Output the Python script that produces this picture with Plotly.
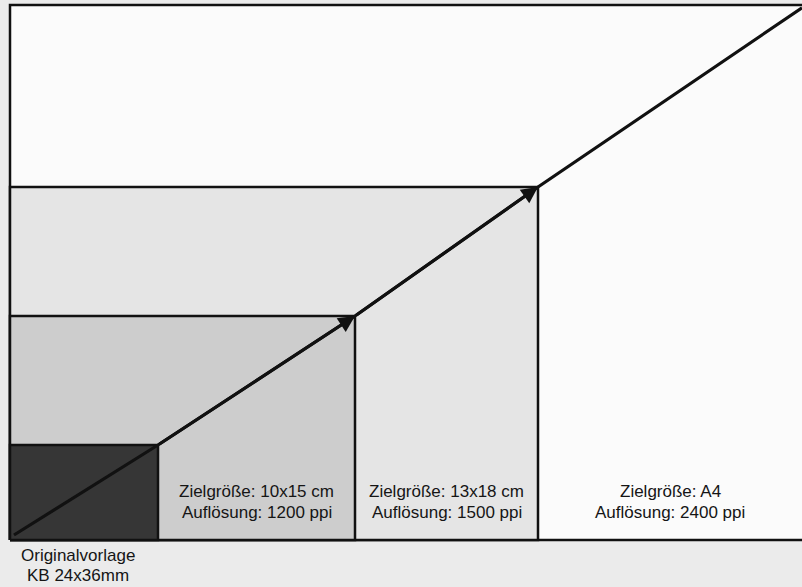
import plotly.graph_objects as go

# Frame sizes (axis units), innermost to outermost
frame_names = ["Originalvorlage", "Zielgröße: 10x15 cm", "Zielgröße: 13x18 cm", "Zielgröße: A4"]
frame_widths = [148, 345, 528, 800]
frame_heights = [95, 224, 353, 535]
line1 = ["Originalvorlage", "Zielgröße: 10x15 cm", "Zielgröße: 13x18 cm", "Zielgröße: A4"]
line2 = ["KB 24x36mm", "Auflösung: 1200 ppi", "Auflösung: 1500 ppi", "Auflösung: 2400 ppi"]
fills = ["#363636", "#cdcdcd", "#e5e5e5", "#fbfbfb"]

fig = go.Figure()

# draw outermost first
for i in reversed(range(len(frame_widths))):
    w, h = frame_widths[i], frame_heights[i]
    fig.add_trace(go.Scatter(
        x=[0, w, w, 0, 0], y=[0, 0, h, h, 0],
        fill="toself", fillcolor=fills[i], mode="lines",
        line=dict(color="#111111", width=2.5), hoverinfo="skip", showlegend=False))

# diagonal growth line through frame corners
ax_pts = [4] + frame_widths[:3] + [792]
slope = (frame_heights[2] - frame_heights[0]) / (frame_widths[2] - frame_widths[0])
end_y = frame_heights[2] + slope * (792 - frame_widths[2])
ay_pts = [5] + frame_heights[:3] + [end_y]
fig.add_trace(go.Scatter(x=ax_pts, y=ay_pts, mode="lines",
                         line=dict(color="#111111", width=3.2),
                         hoverinfo="skip", showlegend=False))

annotations = []
for i in (1, 2):
    annotations.append(dict(
        x=frame_widths[i], y=frame_heights[i], ax=frame_widths[i - 1], ay=frame_heights[i - 1],
        xref="x", yref="y", axref="x", ayref="y", text="", showarrow=True,
        arrowhead=2, arrowsize=1.1, arrowwidth=3, arrowcolor="#111111"))

font = dict(family="Liberation Sans, Arial, sans-serif", size=17, color="#151515")
# labels in frames 1..3
for i in (1, 2, 3):
    right = min(frame_widths[i], 792)
    cx = (frame_widths[i - 1] + right) / 2
    annotations.append(dict(x=cx, y=49, text=line1[i], showarrow=False, font=font,
                            xref="x", yref="y", xanchor="center", yanchor="middle"))
    annotations.append(dict(x=cx, y=28, text=line2[i], showarrow=False, font=font,
                            xref="x", yref="y", xanchor="center", yanchor="middle"))
annotations.append(dict(x=68, y=-15, text=line1[0], showarrow=False, font=font,
                        xref="x", yref="y", xanchor="center", yanchor="middle"))
annotations.append(dict(x=68, y=-35, text=line2[0], showarrow=False, font=font,
                        xref="x", yref="y", xanchor="center", yanchor="middle"))

fig.update_layout(
    width=802, height=587,
    margin=dict(l=0, r=0, t=0, b=0),
    paper_bgcolor="#ebebeb", plot_bgcolor="#ebebeb",
    xaxis=dict(range=[-10, 792], visible=False, fixedrange=True),
    yaxis=dict(range=[-47, 540], visible=False, fixedrange=True),
    annotations=annotations,
    showlegend=False,
)

fig.write_html("out.html", config={"displayModeBar": False},
               post_script="document.body.style.margin='0';document.body.style.overflow='hidden';")
